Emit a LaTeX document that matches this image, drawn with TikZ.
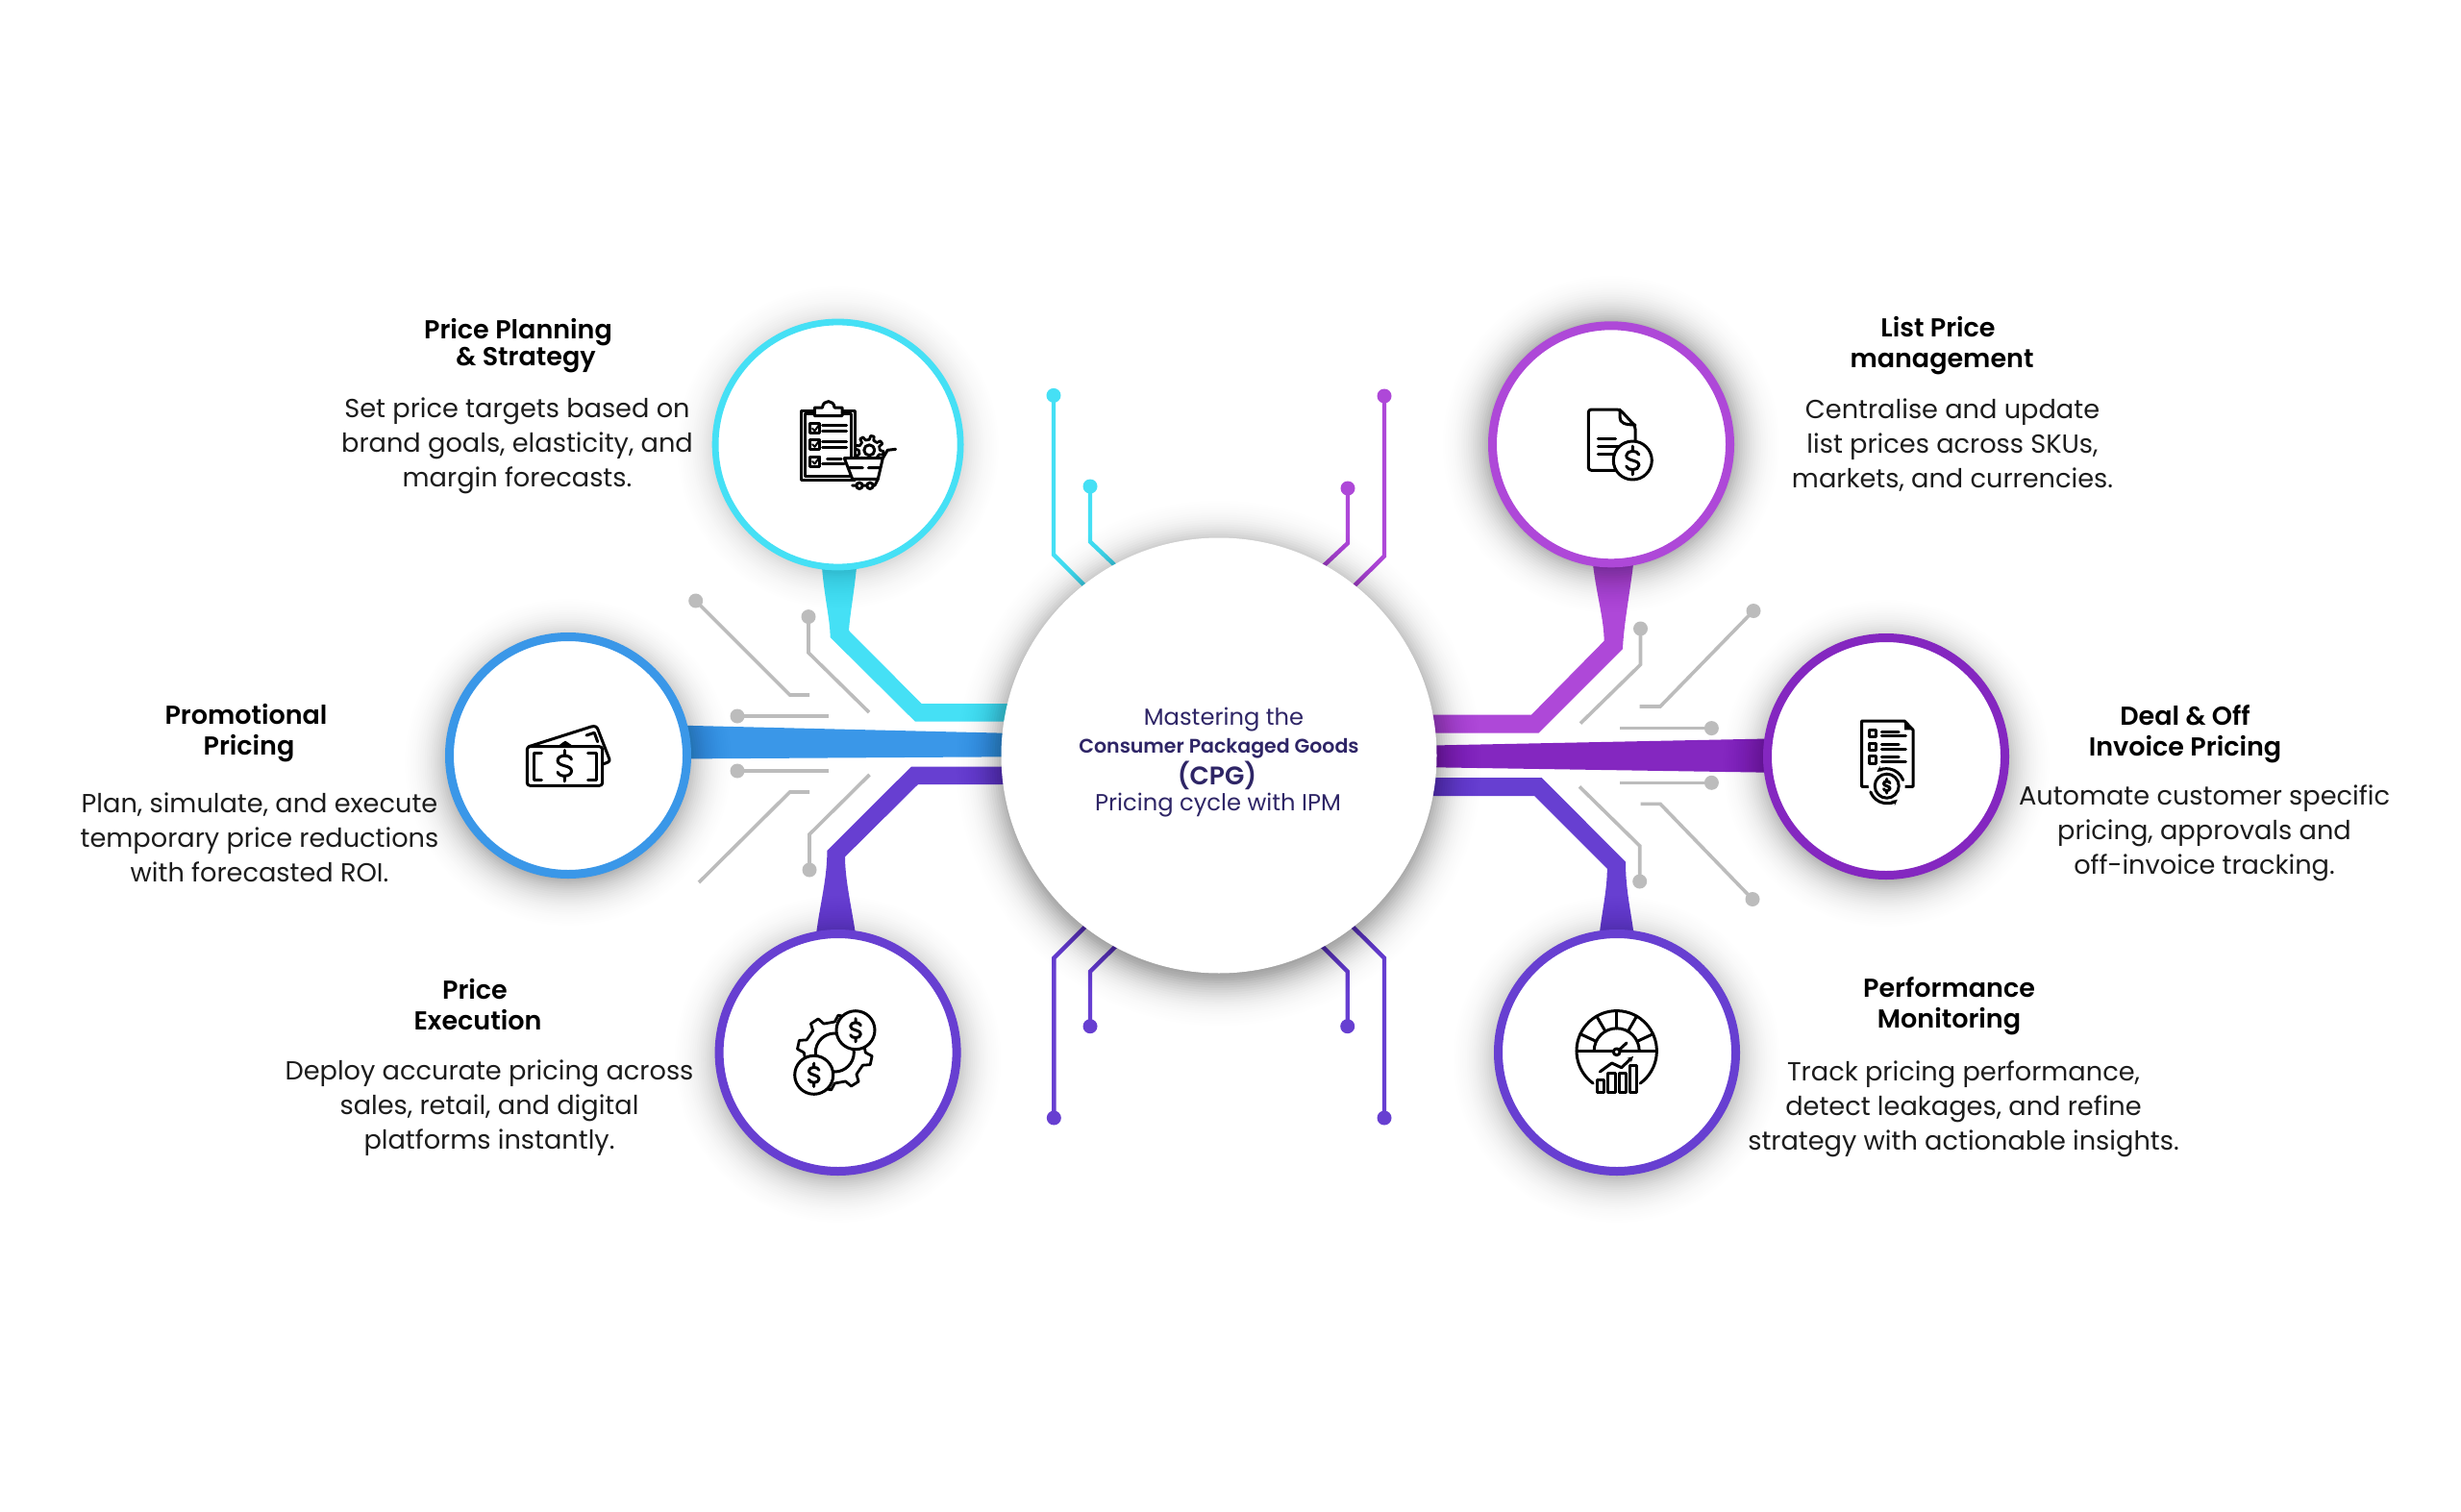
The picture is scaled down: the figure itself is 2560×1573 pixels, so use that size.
\documentclass[tikz,border=0pt]{standalone}
\usepackage{fontspec}
\setmainfont[BoldFont={Poppins SemiBold}]{Poppins}
\usetikzlibrary{calc,arrows.meta}
\definecolor{cya}{HTML}{45E0F5}
\definecolor{blu}{HTML}{3A97E8}
\definecolor{pur}{HTML}{673FD1}
\definecolor{mag}{HTML}{AE48D8}
\definecolor{vio}{HTML}{8427C0}
\definecolor{gry}{HTML}{BCBCBC}
\definecolor{nav}{HTML}{2E2566}
\definecolor{txt}{HTML}{1C1C1C}
\pgfdeclarelayer{wires}
\pgfdeclarelayer{shade}
\pgfsetlayers{wires,shade,main}
\tikzset{
 hubring/.style={circle,fill=white,draw=#1,line width=9pt,minimum size=247pt,inner sep=0pt},
 coreball/.style={circle,fill=white,minimum size=453pt,inner sep=0pt},
 pindot/.style={circle,fill=#1,minimum size=15pt,inner sep=0pt},
 wire/.style={draw=#1,line width=3.6pt,line join=miter},
 trace/.style={draw=#1,line width=4.4pt,line join=miter},
 ink/.style={draw=black,line width=3pt,line cap=round,line join=round},
 ttl/.style={align=center,text=black,font=\fontsize{27}{32}\selectfont\bfseries,inner sep=0pt},
 bod/.style={align=center,text=txt,font=\fontsize{27.2}{36}\selectfont,inner sep=0pt},
 ctl/.style={text=nav,font=\fontsize{24.2}{28}\selectfont,inner sep=0pt},
}
% soft shadow: concentric translucent discs; #1 node, #2 y offset, #3 radius, #4 spread, #5 strength
\newcommand\SoftShadow[5]{%
 \foreach \i in {0,...,29}{%
  \pgfmathsetmacro\op{#5*(1-\i/30)*(1-\i/30)}%
  \pgfmathsetmacro\rr{#3+#4*\i/30}%
  \fill[black,opacity=\op] ($(#1.center)+(0,#2)$) circle (\rr);}}
\newcommand\DollarAt[3]{%
 \draw[ink,shift={(#1,#2)},scale=#3]
  (0.6,-0.55) .. controls (0.5,-1) and (-0.6,-1) .. (-0.6,-0.45)
  .. controls (-0.6,0.1) and (0.6,-0.1) .. (0.6,0.45)
  .. controls (0.6,1) and (-0.5,1) .. (-0.6,0.55)
  (0,-1.35) -- (0,-0.95) (0,0.95) -- (0,1.35);}
\newcommand\GearAt[6]{% x y r1 r2 n width
 \pgfmathsetmacro\gstep{360/#5}
 \draw[ink,shift={(#1,#2)},line width=#6pt,fill=white]
  (0:#3) \foreach \k in {1,...,#5}{
   -- ({(\k-1)*\gstep+.12*\gstep}:#4) -- ({(\k-1)*\gstep+.42*\gstep}:#4)
   -- ({(\k-1)*\gstep+.54*\gstep}:#3) -- ({\k*\gstep}:#3)} -- cycle;}
\begin{document}
\begin{tikzpicture}[x=1pt,y=-1pt]
\useasboundingbox (0,0) rectangle (2560,1573);
% hubs
\node[coreball] (core) at (1268,786) {};
\node[circle,fill=white,draw=cya,line width=6.8pt,minimum size=255pt,inner sep=0pt] (planning) at (871.6,462.5) {};
\node[hubring=blu] (promo) at (591,786) {};
\node[hubring=pur] (exec) at (871.6,1095) {};
\node[hubring=mag] (listp) at (1676,462.3) {};
\node[hubring=vio] (deal) at (1962,787) {};
\node[hubring=pur] (perf) at (1682,1095) {};
% dots
\foreach \n/\c/\x/\y in {
 a1/cya/1096/411.4, a2/cya/1134/506, b1/mag/1440/412, b2/mag/1402/508,
 c1/pur/1096.3/1163, c2/pur/1134/1067.7, d1/pur/1440/1163, d2/pur/1401.7/1067.7,
 g1/gry/723.7/625, g2/gry/841/641.6, g3/gry/767/745, g4/gry/767/802, g6/gry/842/905,
 r1/gry/1824/635.5, r2/gry/1706.5/654, r3/gry/1780.4/757.6, r4/gry/1780.4/814.3, r5/gry/1823/935.5, r6/gry/1705.7/917}
 {\node[pindot=\c] (\n) at (\x,\y) {};}
\foreach \n/\x/\y in {
 g1e/842/723, g2e/904/741, g3e/862/745, g4e/862/802, g5e/842/824, g5s/727/918, g6e/904.5/806,
 r1e/1705.7/735, r2e/1644/752.6, r3e/1685/757.6, r4e/1685/814.3, r5e/1706.5/836.3, r6e/1643/818.4,
 a1e/1135/616, a2e/1167/595, b1e/1401/617, b2e/1370/595,
 c1e/1135/958, c2e/1167/978, d1e/1401/958, d2e/1369/978}
 {\coordinate (\n) at (\x,\y);}
\begin{pgfonlayer}{wires}
\fill[white] (0,0) rectangle (2560,1573);
% tapered connectors
\fill[cya] (planning.center) -- (855,590) .. controls (858,625) and (863.6,645) .. (863.6,663) -- (952,750.7) -- (1100,750.7) -- (core.center) -- (1100,732) -- (958.6,732) -- (883,656) .. controls (884,640) and (888,620) .. (891,590) -- cycle;
\fill[blu] (promo.center) -- (700,754.5) -- (1100,764) -- (core.center) -- (1100,787) -- (700,789.5) -- cycle;
\fill[pur] (exec.center) -- (849,972) .. controls (853,940) and (860.4,915) .. (860.4,885) -- (948,797.5) -- (1100,797.5) -- (core.center) -- (1100,816) -- (955,816) -- (879,891.4) .. controls (879,915) and (886,945) .. (890,972) -- cycle;
\fill[mag] (listp.center) -- (1657,587) .. controls (1661,620) and (1668.6,645) .. (1668.6,666.8) -- (1593,743.6) -- (1440,743.6) -- (core.center) -- (1440,762.5) -- (1600.7,762.5) -- (1688,675) .. controls (1689,650) and (1695,620) .. (1699,587) -- cycle;
\fill[vio] (deal.center) -- (1840,768.5) -- (1440,776.5) -- (core.center) -- (1440,797.5) -- (1840,803.7) -- cycle;
\fill[pur] (perf.center) -- (1663.7,972) .. controls (1667,945) and (1671.8,925) .. (1671.8,903.7) -- (1596,828) -- (1440,828) -- (core.center) -- (1440,809) -- (1603.7,809) -- (1691,896.7) .. controls (1691,925) and (1696,945) .. (1699.6,972) -- cycle;
% pins
\draw[trace=cya] (a1.center) -- (1096,577) -- (a1e);
\draw[trace=cya] (a2.center) -- (1134,563.6) -- (a2e);
\draw[trace=mag] (b1.center) -- (1440,578.6) -- (b1e);
\draw[trace=mag] (b2.center) -- (1402,565) -- (b2e);
\draw[trace=pur] (c1.center) -- (1096.3,996.7) -- (c1e);
\draw[trace=pur] (c2.center) -- (1134,1010.7) -- (c2e);
\draw[trace=pur] (d1.center) -- (1440,996.7) -- (d1e);
\draw[trace=pur] (d2.center) -- (1401.7,1010.7) -- (d2e);
% grey circuit lines
\draw[wire=gry] (g1.center) -- (821.6,723) -- (g1e);
\draw[wire=gry] (g2.center) -- (841,679) -- (g2e);
\draw[wire=gry] (g3.center) -- (g3e);
\draw[wire=gry] (g4.center) -- (g4e);
\draw[wire=gry] (g5s) -- (821.6,824) -- (g5e);
\draw[wire=gry] (g6.center) -- (842,868) -- (g6e);
\draw[wire=gry] (r1.center) -- (1727,735) -- (r1e);
\draw[wire=gry] (r2.center) -- (1706.5,691.4) -- (r2e);
\draw[wire=gry] (r3.center) -- (r3e);
\draw[wire=gry] (r4.center) -- (r4e);
\draw[wire=gry] (r5.center) -- (1727,836.3) -- (r5e);
\draw[wire=gry] (r6.center) -- (1705.7,880) -- (r6e);
\end{pgfonlayer}
\begin{pgfonlayer}{shade}
\SoftShadow{core}{8}{214}{74}{.05}
\SoftShadow{planning}{3}{122}{68}{.02}
\SoftShadow{promo}{7}{120}{68}{.032}
\SoftShadow{exec}{7}{120}{68}{.028}
\SoftShadow{listp}{0}{120}{72}{.04}
\SoftShadow{deal}{7}{120}{68}{.032}
\SoftShadow{perf}{7}{120}{68}{.028}
\end{pgfonlayer}
% --- icon: clipboard and cart
\draw[ink] (833.3,427.3) rectangle (889.3,499);
\draw[ink] (837.7,430.7) rectangle (885,495);
\draw[ink,fill=white] (847.3,432.7) -- (847.3,424) -- (855.5,424) .. controls (856,415.5) and (867.5,415.5) .. (868,424) -- (876,424) -- (876,432.7) -- cycle;
\foreach \t in {440.7,457.3,475}{\draw[ink] (842.7,\t) rectangle ++(10,10); \draw[ink,line width=2pt] (845,\t+5) -- (847.5,\t+7.5) -- (853,\t);}
\draw[ink] (855.7,442.7) -- (880.7,442.7) (855.7,448.3) -- (880.7,448.3) (855.7,459.3) -- (880.7,459.3) (855.7,465.7) -- (880.7,465.7) (860.5,477.3) -- (875,477.3) (855.7,482.7) -- (878,482.7);
\GearAt{904.3}{468.3}{11}{15}{8}{2.8}
\draw[ink] (904.3,468.3) circle (5.5);
\draw[ink,fill=white] (878.3,476.7) -- (918.3,476.7) -- (913.3,498.3) -- (886.7,498.3) -- cycle;
\draw[ink] (918.3,476.7) -- (923.3,468.3) -- (931.7,467.3) (913.3,498.3) -- (910,505) -- (886.7,505) (883.3,486.7) -- (897.3,486.7) (903.3,486.7) -- (915,486.7);
\draw[ink,fill=white] (894,505.3) circle (3.2) (905,505.3) circle (3.2);
% --- icon: document and coin
\draw[ink,rounded corners=3pt] (1680,489.3) -- (1652.3,489.3) -- (1652.3,426) -- (1685,426) -- (1701,443.3) -- (1701,462);
\draw[ink] (1685,426) -- (1685,434) .. controls (1685,440) and (1690,442) .. (1701,442);
\draw[ink] (1662.3,456) -- (1680.7,456) (1662.3,464.3) -- (1686,464.3) (1662.3,472.3) -- (1680,472.3);
\draw[ink,fill=white] (1698.3,479) circle (20);
\DollarAt{1698.3}{479}{11}
% --- icon: banknotes
\draw[ink] (550,776.7) -- (615,756) .. controls (619,755) and (621,756) .. (622,759) -- (634,790) .. controls (634.5,792.5) and (632,793.5) .. (626.7,795);
\draw[ink] (610,765) -- (618.3,762.3) -- (621.7,771.7);
\fill[black] (580,776.7) .. controls (584,773) and (586,772) .. (588,770.7) .. controls (590,772) and (592,773) .. (596.7,776.7) -- cycle;
\draw[ink,rounded corners=3pt,fill=white] (548.3,776.7) rectangle (626.7,817.3);
\draw[ink] (563.3,783.3) -- (555,783.3) -- (555,811) -- (563.3,811) (611.7,783.3) -- (620,783.3) -- (620,811) -- (611.7,811);
\DollarAt{587.3}{796.7}{12}
% --- icon: invoice and coin
\draw[ink] (1948,818.3) -- (1936.7,818.3) -- (1936.7,750) -- (1981,750) -- (1990,759.3) -- (1990,818.3) -- (1977,818.3);
\fill[black] (1981,750) -- (1990,759.3) -- (1981,759.3) -- cycle;
\foreach \t in {759.3,773,786.7}{\draw[ink] (1944,\t) rectangle ++(7.5,7.5);}
\draw[ink] (1957.3,761) -- (1975,761) (1957.3,765) -- (1982.3,765) (1957.3,774.3) -- (1975,774.3) (1957.3,779) -- (1982.3,779) (1957.3,787.7) -- (1975,787.7) (1957.3,792.3) -- (1982.3,792.3);
\fill[white] (1962.7,817.7) circle (19);
\draw[ink] (1962.7,817.7) circle (12.5);
\DollarAt{1962.7}{817.7}{5.5}
\draw[ink,-{Stealth[length=6pt,width=6pt]}] (1962.7,817.7) ++(-20:18) arc[start angle=-20,end angle=-125,radius=18];
\draw[ink,-{Stealth[length=6pt,width=6pt]}] (1962.7,817.7) ++(160:18) arc[start angle=160,end angle=52,radius=18];
% --- icon: gear and coins
\GearAt{868.3}{1095}{32}{39}{8}{2.8}
\draw[ink] (868.3,1095) circle (20);
\draw[ink,fill=white] (890,1071.7) circle (20);
\DollarAt{890}{1071.7}{9}
\draw[ink,fill=white] (846.7,1118.3) circle (20);
\DollarAt{846.7}{1118.3}{9}
% --- icon: gauge and bars
\draw[ink] (1681.7,1093.3) ++(126:41.7) arc[start angle=126,end angle=414,radius=41.7];
\draw[ink] (1640,1093.3) -- (1723.4,1093.3);
\draw[ink] (1681.7,1093.3) ++(180:23.5) arc[start angle=180,end angle=360,radius=23.5];
\foreach \a in {-155,-120,-90,-60,-25}{\draw[ink] (1681.7,1093.3) ++(\a:23.5) -- ++(\a:18.2);}
\draw[ink,fill=white] (1681.7,1094.3) circle (3.4);
\draw[ink] (1684.5,1092) -- (1692,1085);
\draw[ink] (1661.7,1123.3) rectangle (1668.3,1136.7) (1672.3,1116) rectangle (1680,1136.7) (1684.3,1116) rectangle (1691,1136.7) (1695.7,1108.3) rectangle (1702.3,1136.7);
\draw[ink,-{Stealth[length=6pt,width=6pt]}] (1664.3,1115) -- (1676.7,1106) -- (1686.7,1110.7) -- (1699,1099);
% --- text
\node[ctl] (m1) at (1273,749) {Mastering the};
\node[ctl,font=\fontsize{20.5}{26}\selectfont\bfseries] (m2) at (1268,779) {Consumer Packaged Goods};
\node[ctl,font=\fontsize{26.5}{32}\selectfont\bfseries] (m3) at (1266,807) {(CPG)};
\node[ctl] (m4) at (1267,838) {Pricing cycle with IPM};
\node[ttl,font=\fontsize{27}{28}\selectfont\bfseries] (t1) at (539,360) {Price Planning\\\hspace*{16pt}\& Strategy};
\node[bod] (b1t) at (538,464) {Set price targets based on\\brand goals, elasticity, and\\margin forecasts.};
\node[ttl] (t2) at (256,763) {Promotional\\\hspace*{6pt}Pricing};
\node[bod] (b2t) at (270,871) {Plan, simulate, and execute\\temporary price reductions\\with forecasted ROI.};
\node[ttl] (t3) at (497,1045) {Price\hspace*{6pt}\\Execution};
\node[bod] (b3t) at (509,1152.5) {Deploy accurate pricing across\\sales, retail, and digital\\platforms instantly.};
\node[ttl] (t4) at (2020,359.5) {List Price\hspace*{8pt}\\management};
\node[bod] (b4t) at (2031,463) {Centralise and update\\list prices across SKUs,\\markets, and currencies.};
\node[ttl] (t5) at (2273,764) {Deal \& Off\\Invoice Pricing};
\node[bod] (b5t) at (2293,867) {Automate customer specific\\pricing, approvals and\\off-invoice tracking.};
\node[ttl] (t6) at (2027.5,1047) {Performance\\Monitoring};
\node[bod] (b6t) at (2042.5,1153.5) {Track pricing performance,\\detect leakages, and refine\\strategy with actionable insights.};
\end{tikzpicture}
\end{document}
